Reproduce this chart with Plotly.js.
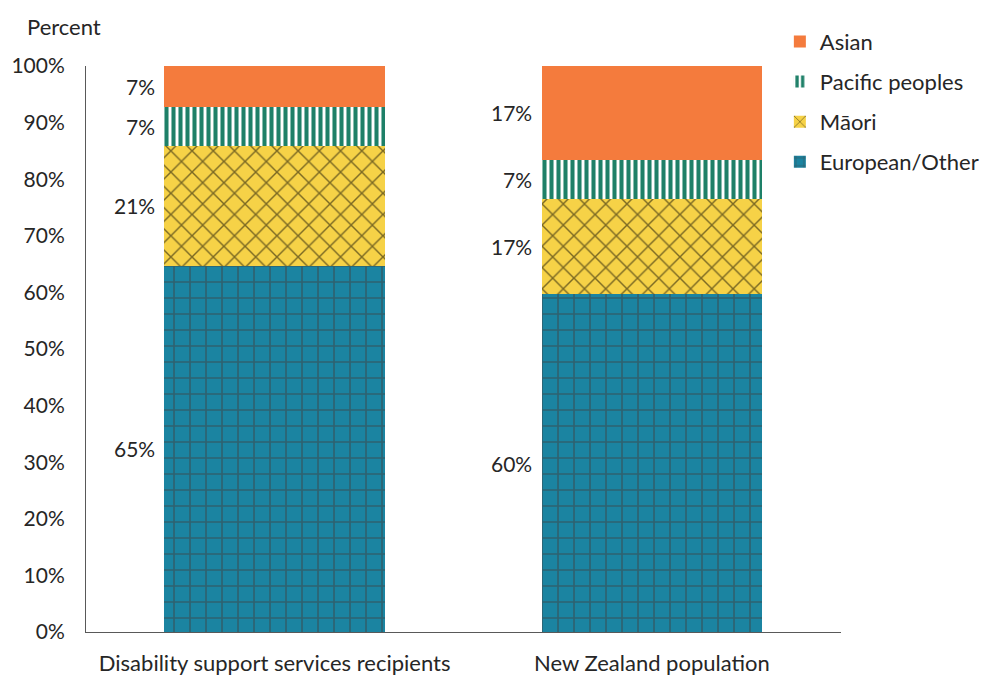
<!DOCTYPE html>
<html>
<head>
<meta charset="utf-8">
<script src="https://cdn.plot.ly/plotly-3.0.1.min.js"></script>
<style>html,body{margin:0;padding:0;background:#fff;}#chart{width:984px;height:676px;}</style>
</head>
<body>
<div id="chart"></div>
<script>
const categories = ["Disability support services recipients", "New Zealand population"];
const europeanOther = [64.7, 59.7];
const maori = [21.2, 16.8];
const pacificPeoples = [6.9, 6.9];
const asian = [7.2, 16.6];
const seriesNames = ["European/Other", "Māori", "Pacific peoples", "Asian"];

const FONT = "Lato, Liberation Sans, Arial, sans-serif";
const TXT = "#262626";

const seriesData = [europeanOther, maori, pacificPeoples, asian];
const styles = [
  {color: "#1B84A1", pattern: {shape: "+", fgcolor: "#404040", bgcolor: "#1B84A1", size: 16, solidity: 0.2, fillmode: "overlay"}},
  {color: "#F6D247", pattern: {shape: "x", fgcolor: "#000000", bgcolor: "#F6D247", size: 15, solidity: 0.18, fillmode: "overlay"}},
  {color: "#1E8068", pattern: {shape: "|", fgcolor: "#1E8068", bgcolor: "#ffffff", size: 7, solidity: 0.58, fgopacity: 1, fillmode: "overlay"}},
  {color: "#F47B3D", pattern: {shape: ""}}
];

const traces = seriesData.map((vals, i) => ({
  type: "bar",
  name: seriesNames[i],
  legendgroup: "g" + i,
  legendrank: 1000 - i,
  x: categories,
  y: vals,
  width: 0.585,
  marker: {color: styles[i].color, pattern: styles[i].pattern, line: {width: 0}},
  hoverinfo: "name+y"
}));

const annotations = [];
categories.forEach((cat, ci) => {
  let cum = 0;
  seriesData.forEach((vals) => {
    const v = vals[ci];
    annotations.push({
      x: cat, y: cum + v / 2, xref: "x", yref: "y",
      text: Math.round(v) + "%", showarrow: false,
      xanchor: "right", xshift: -118,
      font: {family: FONT, size: 21, color: TXT}
    });
    cum += v;
  });
});
annotations.push({
  xref: "paper", yref: "paper", x: -0.068, y: 1.043, xanchor: "left", yanchor: "bottom",
  text: "Percent", showarrow: false, font: {family: FONT, size: 22, color: TXT}
});

const layout = {
  width: 984, height: 676,
  margin: {l: 86, r: 0, t: 66, b: 44},
  paper_bgcolor: "#ffffff", plot_bgcolor: "rgba(0,0,0,0)",
  barmode: "stack",
  showlegend: true,
  legend: {
    x: 0.777, xanchor: "left", y: 1.08, yanchor: "top",
    traceorder: "grouped",
    bgcolor: "rgba(0,0,0,0)",
    font: {family: FONT, size: 22, color: TXT},
    itemwidth: 30, tracegroupgap: 8.5
  },
  xaxis: {
    type: "category", range: [-0.5, 1.5], domain: [0, 0.845],
    showline: true, linecolor: "#595959", linewidth: 1,
    ticks: "", showgrid: false, zeroline: false, automargin: false,
    ticklabelstandoff: 12,
    tickfont: {family: FONT, size: 22, color: TXT}
  },
  yaxis: {
    range: [0, 100], dtick: 10, ticksuffix: "%",
    showline: true, linecolor: "#595959", linewidth: 1,
    ticks: "", showgrid: false, zeroline: false, automargin: false,
    ticklabelstandoff: 16,
    tickfont: {family: FONT, size: 21, color: TXT}
  },
  annotations: annotations
};

Plotly.newPlot("chart", traces, layout, {displayModeBar: false, staticPlot: true});
</script>
</body>
</html>
